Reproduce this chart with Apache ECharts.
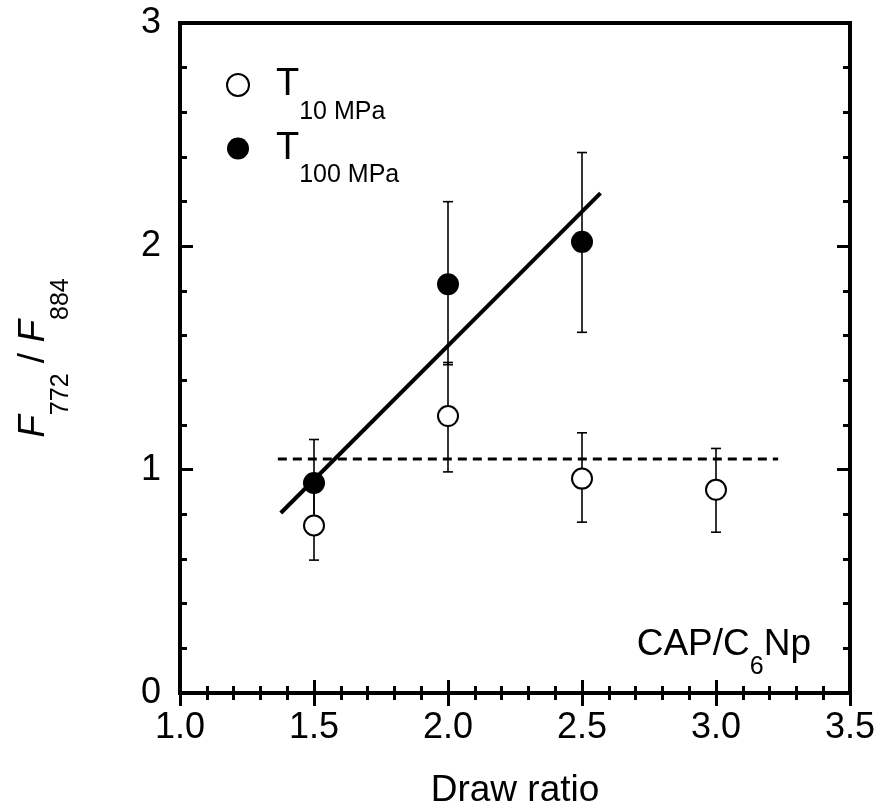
<!DOCTYPE html>
<html><head><meta charset="utf-8">
<script src="https://cdn.jsdelivr.net/npm/echarts@6/dist/echarts.min.js"></script>
<style>html,body{margin:0;padding:0;background:#fff}#c{width:895px;height:811px}</style>
</head><body><div id="c"></div>
<script>
// ---- data ----
const xTicks = [1.0, 1.5, 2.0, 2.5, 3.0, 3.5];
const yTicks = [0, 1, 2, 3];
const drawRatio10 = [1.5, 2.0, 2.5, 3.0];
const t10 = [0.75, 1.24, 0.96, 0.91];
const t10Low = [0.595, 0.99, 0.765, 0.72];
const t10High = [0.90, 1.48, 1.165, 1.095];
const drawRatio100 = [1.5, 2.0, 2.5];
const t100 = [0.94, 1.83, 2.02];
const t100Low = [0.77, 1.47, 1.615];
const t100High = [1.135, 2.20, 2.42];
const fitLineX = [1.376, 2.569];
const fitLineY = [0.806, 2.238];
const refLineX = [1.365, 3.232];
const refLineY = [1.048, 1.048];

const FONT = '"Liberation Sans", Arial, sans-serif';

function errData(xs, lo, hi) { return xs.map((x, i) => [x, lo[i], hi[i]]); }
function errRender(params, api) {
  const x = api.value(0), lo = api.value(1), hi = api.value(2);
  const pLo = api.coord([x, lo]), pHi = api.coord([x, hi]);
  const cw = 5;
  const st = { stroke: '#000', lineWidth: 1.6 };
  return { type: 'group', children: [
    { type: 'line', shape: { x1: pLo[0], y1: pLo[1], x2: pHi[0], y2: pHi[1] }, style: st },
    { type: 'line', shape: { x1: pLo[0] - cw, y1: pLo[1], x2: pLo[0] + cw, y2: pLo[1] }, style: st },
    { type: 'line', shape: { x1: pHi[0] - cw, y1: pHi[1], x2: pHi[0] + cw, y2: pHi[1] }, style: st }
  ]};
}

const tickCommon = { show: true, inside: true, length: 13, lineStyle: { color: '#000', width: 3 } };
const minorCommon = { show: true, splitNumber: 5, length: 7, lineStyle: { color: '#000', width: 3 } };

const chart = echarts.init(document.getElementById('c'), null, { renderer: 'canvas' });
chart.setOption({
  animation: false,
  backgroundColor: '#fff',
  grid: { left: 180, right: 45, top: 23, bottom: 118, outerBoundsMode: 'none', containLabel: false,
          show: true, borderColor: '#000', borderWidth: 4, backgroundColor: 'transparent' },
  title: {
    text: '{a|CAP/C}{s|6}{a|Np}',
    right: 79, top: 604,
    textStyle: { rich: {
      a: { fontFamily: FONT, fontSize: 37, fontWeight: 'normal', color: '#000' },
      s: { fontFamily: FONT, fontSize: 25, fontWeight: 'normal', color: '#000', padding: [46, 0, 0, 0] }
    } }
  },
  legend: {
    orient: 'vertical', left: 221, top: 61,
    itemWidth: 22, itemHeight: 22, itemGap: 5, itemTextGap: 42,
    data: [
      { name: 'T10', icon: 'circle', itemStyle: { color: '#fff', borderColor: '#000', borderWidth: 2 } },
      { name: 'T100', icon: 'circle', itemStyle: { color: '#000', borderColor: '#000', borderWidth: 0 } }
    ],
    formatter: n => '{t|T}{s|' + (n === 'T10' ? '10 MPa' : '100 MPa') + '}',
    textStyle: { rich: {
      t: { fontFamily: FONT, fontSize: 38, color: '#000', padding: [0, 0, 0, 22] },
      s: { fontFamily: FONT, fontSize: 25, color: '#000', padding: [54, 0, 0, 0] }
    } }
  },
  xAxis: [
    { type: 'value', min: xTicks[0], max: xTicks[xTicks.length - 1], interval: 0.5,
      name: 'Draw ratio', nameLocation: 'middle', nameGap: 79,
      nameTextStyle: { fontFamily: FONT, fontSize: 37, color: '#000' },
      axisLine: { show: false }, splitLine: { show: false },
      axisTick: tickCommon, minorTick: minorCommon,
      axisLabel: { margin: 17, fontFamily: FONT, fontSize: 36, color: '#000', formatter: v => v.toFixed(1) } },
    { type: 'value', position: 'top', min: xTicks[0], max: xTicks[xTicks.length - 1], interval: 0.5,
      axisLine: { show: false }, splitLine: { show: false },
      axisTick: tickCommon, minorTick: minorCommon, axisLabel: { show: false } }
  ],
  yAxis: [
    { type: 'value', min: yTicks[0], max: yTicks[yTicks.length - 1], interval: 1,
      name: '{f|F}{s|772}{n| / }{f|F}{s|884}', nameLocation: 'middle', nameGap: 106, nameRotate: 90,
      nameTextStyle: { rich: {
        f: { fontFamily: FONT, fontSize: 37, fontStyle: 'italic', color: '#000' },
        n: { fontFamily: FONT, fontSize: 37, color: '#000' },
        s: { fontFamily: FONT, fontSize: 25, color: '#000', padding: [55, 0, 0, 0] }
      } },
      axisLine: { show: false }, splitLine: { show: false },
      axisTick: tickCommon, minorTick: minorCommon,
      axisLabel: { margin: 19, fontFamily: FONT, fontSize: 36, color: '#000' } },
    { type: 'value', position: 'right', min: yTicks[0], max: yTicks[yTicks.length - 1], interval: 1,
      axisLine: { show: false }, splitLine: { show: false },
      axisTick: tickCommon, minorTick: minorCommon, axisLabel: { show: false } }
  ],
  series: [
    { type: 'line', data: refLineX.map((x, i) => [x, refLineY[i]]), symbol: 'none', silent: true,
      lineStyle: { color: '#000', width: 3, type: [9, 6] }, z: 1 },
    { type: 'custom', data: errData(drawRatio10, t10Low, t10High), renderItem: errRender, z: 2, silent: true },
    { type: 'custom', data: errData(drawRatio100, t100Low, t100High), renderItem: errRender, z: 2, silent: true },
    { type: 'line', data: fitLineX.map((x, i) => [x, fitLineY[i]]), symbol: 'none', silent: true,
      lineStyle: { color: '#000', width: 4 }, z: 3 },
    { name: 'T10', type: 'scatter', data: drawRatio10.map((x, i) => [x, t10[i]]), symbol: 'circle', symbolSize: 20,
      itemStyle: { color: '#fff', borderColor: '#000', borderWidth: 2, opacity: 1 }, z: 4 },
    { name: 'T100', type: 'scatter', data: drawRatio100.map((x, i) => [x, t100[i]]), symbol: 'circle', symbolSize: 22,
      itemStyle: { color: '#000', opacity: 1 }, z: 5 }
  ]
});
</script></body></html>
